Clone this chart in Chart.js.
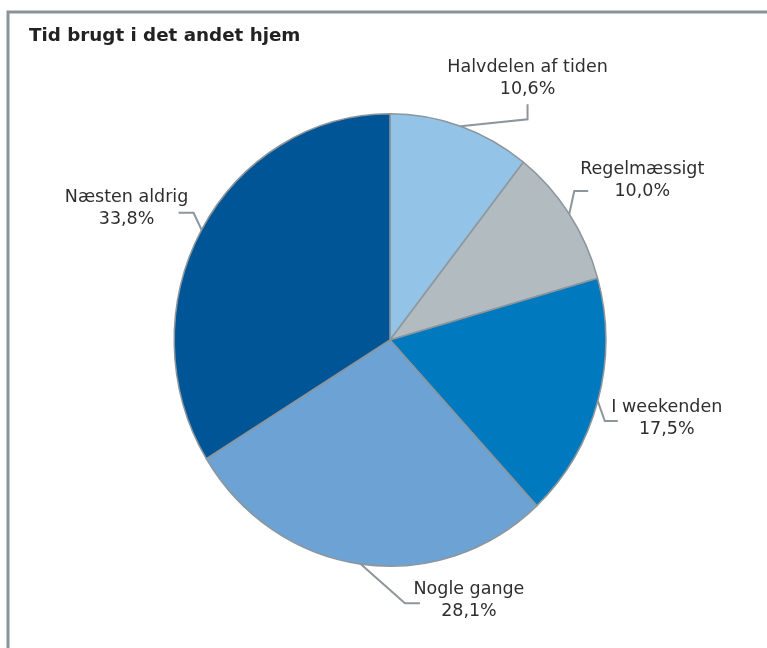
<!DOCTYPE html>
<html>
<head>
<meta charset="utf-8">
<script src="https://cdn.jsdelivr.net/npm/chart.js@4/dist/chart.umd.min.js"></script>
<style>
  html, body { margin: 0; padding: 0; background: #fff; }
  #wrap { width: 767px; height: 648px; }
</style>
</head>
<body>
<div id="wrap"><canvas id="chart" width="767" height="648"></canvas></div>
<script>
// data
var title = 'Tid brugt i det andet hjem';
var categories = ['Halvdelen af tiden', 'Regelmæssigt', 'I weekenden', 'Nogle gange', 'Næsten aldrig'];
var shares = [10.6, 10.0, 17.5, 28.1, 33.8];

var slice_colors = ['#93C4E8', '#B2BBC0', '#0079BF', '#6CA3D4', '#005596'];
var line_color = '#8C969C';

// label placement relative to the point where the leader meets the rim
// [elbow dx, elbow dy, end dx, end dy, text dx, text dy]
var label_offsets = [
    [67, -7, 67, -22, 67, -59],
    [5, -23, 19, -23, 73, -45],
    [7, 20, 20, 20, 69, 6],
    [44, 39, 59, 39, 108, 25],
    [-8, -17, -23, -17, -75, -32]
];
var squash = 0.954; // pie is a bit narrower than tall

function pct(v) {
    return v.toFixed(1).replace('.', ',') + '%';
}

var frame_plugin = {
    id: 'frame',
    beforeDraw: function(chart) {
        var ctx = chart.ctx;
        ctx.save();
        ctx.strokeStyle = '#8A9398';
        ctx.lineWidth = 3;
        ctx.beginPath();
        ctx.moveTo(8, 660);
        ctx.lineTo(8, 12);
        ctx.lineTo(780, 12);
        ctx.stroke();
        ctx.fillStyle = '#222222';
        ctx.font = 'bold 18.3px "DejaVu Sans", Verdana, sans-serif';
        ctx.textBaseline = 'alphabetic';
        ctx.fillText(title, 29, 41);
        ctx.restore();
    }
};

var squash_plugin = {
    id: 'squash',
    beforeDatasetsDraw: function(chart) {
        var arc = chart.getDatasetMeta(0).data[0];
        var ctx = chart.ctx;
        ctx.save();
        ctx.translate(arc.x, arc.y);
        ctx.scale(squash, 1);
        ctx.translate(-arc.x, -arc.y);
    },
    afterDatasetsDraw: function(chart) {
        chart.ctx.restore();
    }
};

var label_plugin = {
    id: 'pielabels',
    afterDraw: function(chart) {
        var ctx = chart.ctx;
        var arcs = chart.getDatasetMeta(0).data;
        ctx.save();
        ctx.font = '17.5px "DejaVu Sans", Verdana, sans-serif';
        ctx.textAlign = 'center';
        ctx.textBaseline = 'middle';
        arcs.forEach(function(arc, i) {
            var mid = (arc.startAngle + arc.endAngle) / 2;
            var ax = arc.x + Math.cos(mid) * arc.outerRadius * squash;
            var ay = arc.y + Math.sin(mid) * arc.outerRadius;
            var o = label_offsets[i];
            ctx.strokeStyle = line_color;
            ctx.lineWidth = 2;
            ctx.beginPath();
            ctx.moveTo(ax, ay);
            ctx.lineTo(ax + o[0], ay + o[1]);
            ctx.lineTo(ax + o[2], ay + o[3]);
            ctx.stroke();
            ctx.fillStyle = '#2E2E2E';
            ctx.fillText(categories[i], ax + o[4], ay + o[5]);
            ctx.fillText(pct(shares[i]), ax + o[4], ay + o[5] + 22);
        });
        ctx.restore();
    }
};

var ctx = document.getElementById('chart').getContext('2d');
var chart = new Chart(ctx, {
    type: 'pie',
    data: {
        labels: categories,
        datasets: [{
            data: shares,
            backgroundColor: slice_colors,
            borderColor: line_color,
            borderWidth: 1.6
        }]
    },
    options: {
        responsive: false,
        animation: false,
        layout: { padding: { top: 113, bottom: 81, left: 163, right: 150 } },
        plugins: {
            legend: { display: false },
            tooltip: { enabled: false }
        }
    },
    plugins: [frame_plugin, squash_plugin, label_plugin]
});
</script>
</body>
</html>
